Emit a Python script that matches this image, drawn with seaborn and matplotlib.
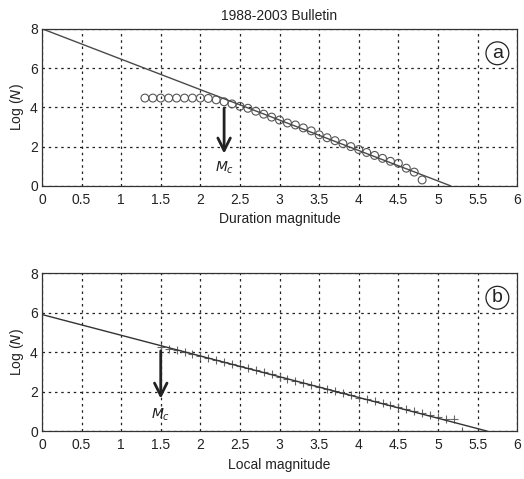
import numpy as np
import pandas as pd
import matplotlib
matplotlib.use("Agg")
import matplotlib.pyplot as plt
import seaborn as sns

sns.set_style("white")
plt.rcParams['font.family'] = ['Liberation Sans', 'DejaVu Sans']

# Panel a: duration magnitude, cumulative log(N)
md = [1.3, 1.4, 1.5, 1.6, 1.7, 1.8, 1.9, 2.0, 2.1, 2.2, 2.3, 2.4, 2.5, 2.6, 2.7, 2.8,
      2.9, 3.0, 3.1, 3.2, 3.3, 3.4, 3.5, 3.6, 3.7, 3.8, 3.9, 4.0, 4.1, 4.2, 4.3, 4.4,
      4.5, 4.6, 4.7, 4.8]
logn_a = [4.47, 4.47, 4.47, 4.47, 4.47, 4.47, 4.47, 4.47, 4.45, 4.38, 4.28, 4.17, 4.05,
          3.95, 3.8, 3.65, 3.5, 3.35, 3.2, 3.1, 2.95, 2.8, 2.6, 2.45, 2.3, 2.15, 2.0,
          1.85, 1.7, 1.55, 1.4, 1.25, 1.15, 0.9, 0.7, 0.3]
fit_a_x = [0.0, 5.16]
fit_a_y = [8.0, 0.0]
mc_a = 2.3

# Panel b: local magnitude
ml = [1.5, 1.6, 1.7, 1.8, 1.9, 2.0, 2.1, 2.2, 2.3, 2.4, 2.5, 2.6, 2.7, 2.8, 2.9, 3.0,
      3.1, 3.2, 3.3, 3.4, 3.5, 3.6, 3.7, 3.8, 3.9, 4.0, 4.1, 4.2, 4.3, 4.4, 4.5, 4.6,
      4.7, 4.8, 4.9, 5.0, 5.1, 5.2, 5.3]
logn_b = [4.25, 4.15, 4.1, 4.0, 3.9, 3.8, 3.7, 3.6, 3.5, 3.4, 3.3, 3.2, 3.1, 3.0, 2.9,
          2.75, 2.65, 2.55, 2.45, 2.35, 2.25, 2.15, 2.05, 1.95, 1.85, 1.7, 1.6, 1.5,
          1.4, 1.3, 1.2, 1.1, 1.0, 0.9, 0.8, 0.7, 0.62, 0.6, 0.0]
fit_b_x = [0.0, 5.62]
fit_b_y = [5.9, 0.0]
mc_b = 1.5

xticks = [0, 0.5, 1, 1.5, 2, 2.5, 3, 3.5, 4, 4.5, 5, 5.5, 6]
xticklabels = ["0", "0.5", "1", "1.5", "2", "2.5", "3", "3.5", "4", "4.5", "5", "5.5", "6"]
yticks = [0, 2, 4, 6, 8]

fig = plt.figure(figsize=(5.24, 4.79), dpi=100)
ax1 = fig.add_axes([0.080, 0.612, 0.907, 0.328])
ax2 = fig.add_axes([0.080, 0.100, 0.907, 0.330])

gray = "#4a4a4a"

def style(ax, xlabel, panel):
    ax.set_xlim(0, 6)
    ax.set_ylim(0, 8)
    ax.set_xticks(xticks)
    ax.set_xticklabels(xticklabels)
    ax.set_yticks(yticks)
    ax.grid(True, linestyle=(0, (2, 3)), color="#222222", linewidth=0.9)
    ax.tick_params(direction="in", length=3, labelsize=10, colors="#222222")
    ax.tick_params(axis="x", pad=5)
    ax.tick_params(axis="y", pad=3)
    for s in ax.spines.values():
        s.set_color("#333333")
        s.set_linewidth(0.9)
    ax.set_xlabel(xlabel, fontsize=10, color="#222222", labelpad=4)
    ax.set_ylabel("Log ($N$)", fontsize=10, color="#222222", labelpad=3)
    ax.text(5.75, 6.75, panel, fontsize=14, ha="center", va="center", color="#222222",
            bbox=dict(boxstyle="circle,pad=0.15", fc="white", ec="#222222", lw=0.9))

arrow = dict(arrowstyle="->,head_width=0.45,head_length=0.9", color="#222222", lw=2)

# Panel a
dfa = pd.DataFrame({"m": md, "logn": logn_a})
sns.lineplot(x=fit_a_x, y=fit_a_y, ax=ax1, color=gray, linewidth=1.0)
sns.scatterplot(data=dfa, x="m", y="logn", ax=ax1, marker="o", s=32,
                facecolors="none", edgecolor="#555555", linewidth=0.8)
ax1.annotate("", xy=(mc_a, 1.5), xytext=(mc_a, 4.1), arrowprops=arrow)
ax1.text(mc_a, 0.9, "$M_c$", fontsize=10, ha="center", va="center", color="#222222")
style(ax1, "Duration magnitude", "a")
ax1.set_title("1988-2003 Bulletin", fontsize=10, color="#222222", pad=6)

# Panel b
dfb = pd.DataFrame({"m": ml, "logn": logn_b})
sns.lineplot(x=fit_b_x, y=fit_b_y, ax=ax2, color="#333333", linewidth=1.0)
sns.scatterplot(data=dfb, x="m", y="logn", ax=ax2, marker="+", s=40,
                color="#666666", linewidth=0.8)
ax2.annotate("", xy=(mc_b, 1.5), xytext=(mc_b, 4.2), arrowprops=arrow)
ax2.text(mc_b, 0.8, "$M_c$", fontsize=10, ha="center", va="center", color="#222222")
style(ax2, "Local magnitude", "b")

fig.savefig("out.png", dpi=100)
